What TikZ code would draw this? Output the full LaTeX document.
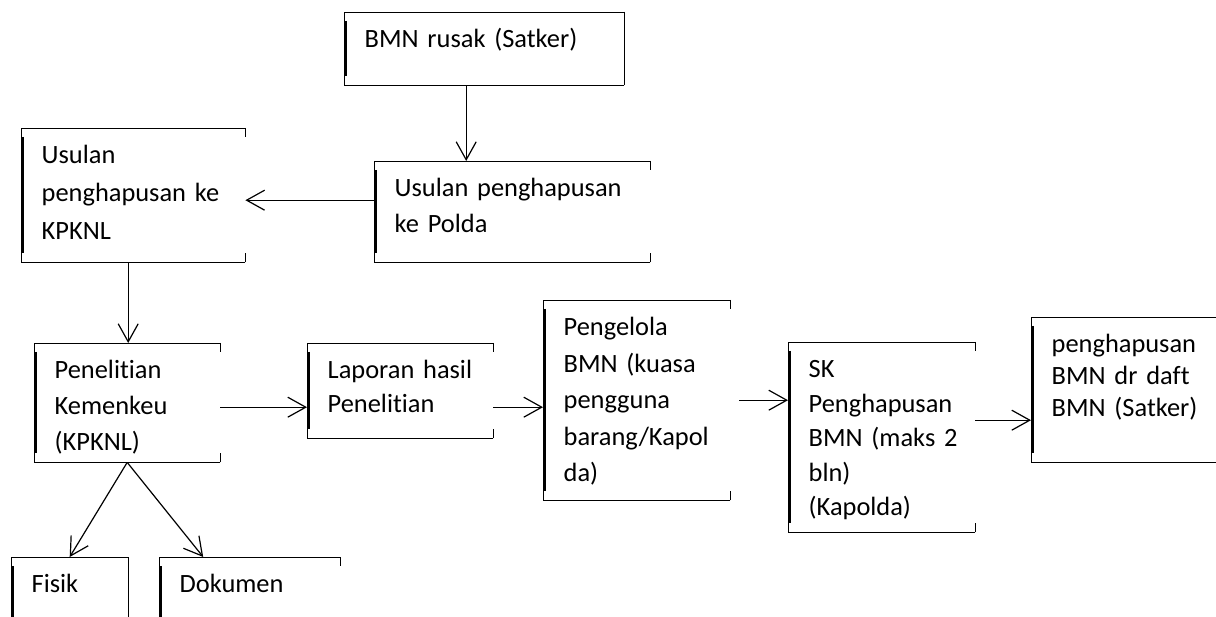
\documentclass[tikz,border=0pt]{standalone}
\usepackage{fontspec}
\setmainfont{Carlito}[Ligatures=NoCommon]
\usetikzlibrary{arrows.meta}
\hyphenpenalty=10000
\exhyphenpenalty=10000
\begin{document}
\begin{tikzpicture}[x=1pt,y=-1pt,
  box/.style={anchor=north west,inner xsep=20.5pt,inner ysep=0pt,align=left,
    text height=35.5pt,font=\fontsize{26.4pt}{35.5pt}\selectfont},
  arr/.style={line width=1.2pt,-{Straight Barb[length=18pt,width=20pt,line width=1.2pt]}},
  frame/.style={line width=0.9pt},
  bar/.style={line width=2.6pt}]
 \clip (0,0) rectangle (1216,617);
 % boxes
 \node[box,text width=239pt,text depth=37.5pt] (rusak) at (344,12) {BMN rusak (Satker)};
 \node[box,text width=183pt,text depth=98.5pt,font=\fontsize{26.4pt}{38pt}\selectfont] (kpknl) at (21,128) {Usulan\\penghapusan~ke\\KPKNL};
 \node[box,text width=235pt,text depth=65.5pt] (polda) at (374,161) {Usulan penghapusan\\ke Polda};
 \node[box,text width=145pt,text depth=83.5pt,font=\fontsize{26.4pt}{36pt}\selectfont] (teliti) at (34,343) {Penelitian\\Kemenkeu\\(KPKNL)};
 \node[box,text width=76pt,text depth=47.5pt] (fisik) at (11,557) {Fisik};
 \node[box,text width=140pt,text depth=47.5pt] (dokumen) at (159,557) {Dokumen};
 \node[box,text width=145pt,text depth=59.5pt,font=\fontsize{26.4pt}{34pt}\selectfont] (laporan) at (307,343) {Laporan~hasil\\Penelitian};
 \node[box,text width=146pt,text depth=164.5pt,font=\fontsize{26.4pt}{36.5pt}\selectfont] (pengelola) at (543,300) {Pengelola\\BMN~(kuasa\\pengguna\\barang/Kapol\\da)};
 \node[box,text width=146pt,text depth=154.5pt,font=\fontsize{26.4pt}{34.5pt}\selectfont] (sk) at (788,342) {SK\\Penghapusan\\BMN~(maks~2\\bln)\\(Kapolda)};
 \node[box,text width=179pt,text depth=109.5pt,font=\fontsize{26.4pt}{32pt}\selectfont] (final) at (1031,317) {penghapusan\\BMN dr daft\\BMN (Satker)};
 % frames
 \foreach \n in {rusak,kpknl,polda,teliti,fisik,dokumen,laporan,pengelola,sk,final} {
   \draw[frame] (\n.north east) -- (\n.north west) -- (\n.south west) -- (\n.south east);
   \draw[frame] (\n.north east) -- ++(0,9);
   \draw[frame] (\n.south east) -- ++(0,-9);
   \draw[bar] ([shift={(1.5,9)}]\n.north west) -- ([shift={(1.5,-9)}]\n.south west);
 }
 \draw[frame] (rusak.north east) -- (rusak.south east);
 \draw[frame] (fisik.north east) -- (fisik.south east);
 % arrows
 \draw[arr] ([xshift=-18pt]rusak.south) -- ([xshift=-18pt]rusak.south |- polda.north);
 \draw[arr] ([yshift=11.5pt]polda.west) -- ([yshift=11.5pt]polda.west -| kpknl.east);
 \draw[arr] ([xshift=-5pt]kpknl.south) -- ([xshift=-5pt]kpknl.south |- teliti.north);
 \draw[arr] ([yshift=-4.5pt]teliti.east) -- ([yshift=-4.5pt]teliti.east -| laporan.west);
 \draw[arr] ([yshift=-16.5pt]laporan.east) -- ([yshift=-16.5pt]laporan.east -| pengelola.west);
 \draw[arr] ([xshift=9pt]pengelola.east) -- (pengelola.east -| sk.west);
 \draw[arr] ([yshift=17pt]sk.east) -- ([yshift=17pt]sk.east -| final.west);
 \draw[arr] (teliti.south) -- (fisik.north);
 \draw[arr] (teliti.south) -- ([xshift=-46.5pt]dokumen.north);
\end{tikzpicture}
\end{document}
